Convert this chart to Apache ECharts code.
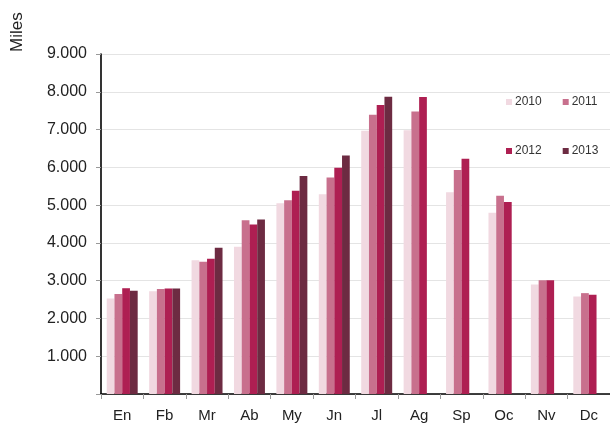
<!DOCTYPE html>
<html>
<head>
<meta charset="utf-8">
<script src="https://cdn.jsdelivr.net/npm/echarts@6/dist/echarts.min.js"></script>
<style>
html,body{margin:0;padding:0;background:#fff;overflow:hidden;}
#chart{width:610px;height:423px;}
</style>
</head>
<body>
<div id="chart"></div>
<script>
const categories = ['En','Fb','Mr','Ab','My','Jn','Jl','Ag','Sp','Oc','Nv','Dc'];
const years = ['2010','2011','2012','2013'];
const s2010 = [2530, 2720, 3540, 3900, 5050, 5290, 6970, 6980, 5340, 4800, 2900, 2580];
const s2011 = [2650, 2780, 3500, 4600, 5130, 5730, 7390, 7480, 5930, 5250, 3010, 2670];
const s2012 = [2800, 2790, 3580, 4490, 5380, 5990, 7650, 7860, 6230, 5080, 3010, 2630];
const s2013 = [2730, 2790, 3870, 4620, 5770, 6310, 7870, null, null, null, null, null];
const yTicks = [0, 1000, 2000, 3000, 4000, 5000, 6000, 7000, 8000, 9000];
const colors = ['#F1D9E1', '#C8708D', '#AE1F52', '#6D2B42'];
const seriesData = [s2010, s2011, s2012, s2013];

const FONT = "'Liberation Sans', Arial, sans-serif";
function fmt(v){
  if (v === 0) return '';
  return String(v).replace(/\B(?=(\d{3})+(?!\d))/g, '.');
}

const chart = echarts.init(document.getElementById('chart'));
chart.setOption({
  animation: false,
  textStyle: {fontFamily: FONT},
  grid: {left: 101, right: 0, top: 54, bottom: 29, containLabel: false},
  legend: [
    {
      data: [years[0], years[1]],
      left: 501, top: 91,
      itemWidth: 6, itemHeight: 6, itemGap: 21,
      icon: 'rect',
      textStyle: {fontSize: 12, color: '#333', fontFamily: FONT, padding: [0,0,0,-2]}
    },
    {
      data: [years[2], years[3]],
      left: 501, top: 140,
      itemWidth: 6, itemHeight: 6, itemGap: 21,
      icon: 'rect',
      textStyle: {fontSize: 12, color: '#333', fontFamily: FONT, padding: [0,0,0,-2]}
    }
  ],
  graphic: [{
    type: 'text',
    x: 9, y: 52,
    rotation: Math.PI / 2,
    style: {text: 'Miles', font: "17px 'Liberation Sans', Arial, sans-serif", fill: '#222'}
  }],
  xAxis: {
    type: 'category',
    data: categories,
    axisLine: {lineStyle: {color: '#000', width: 1.6}},
    axisTick: {show: true, length: 5, lineStyle: {color: '#999'}},
    axisLabel: {fontSize: 15, color: '#222', margin: 14, fontFamily: FONT}
  },
  yAxis: {
    type: 'value',
    min: yTicks[0], max: yTicks[yTicks.length - 1], interval: 1000,
    axisLine: {show: true, lineStyle: {color: '#000', width: 1.6}},
    axisTick: {show: true, length: 5, lineStyle: {color: '#999'}},
    axisLabel: {fontSize: 16, color: '#222', margin: 14, fontFamily: FONT, formatter: fmt},
    splitLine: {lineStyle: {color: '#e4e4e4'}}
  },
  series: years.map((y, i) => ({
    name: y,
    type: 'bar',
    data: seriesData[i],
    barGap: '0%',
    barCategoryGap: '27%',
    itemStyle: {color: colors[i]}
  }))
});
</script>
</body>
</html>
